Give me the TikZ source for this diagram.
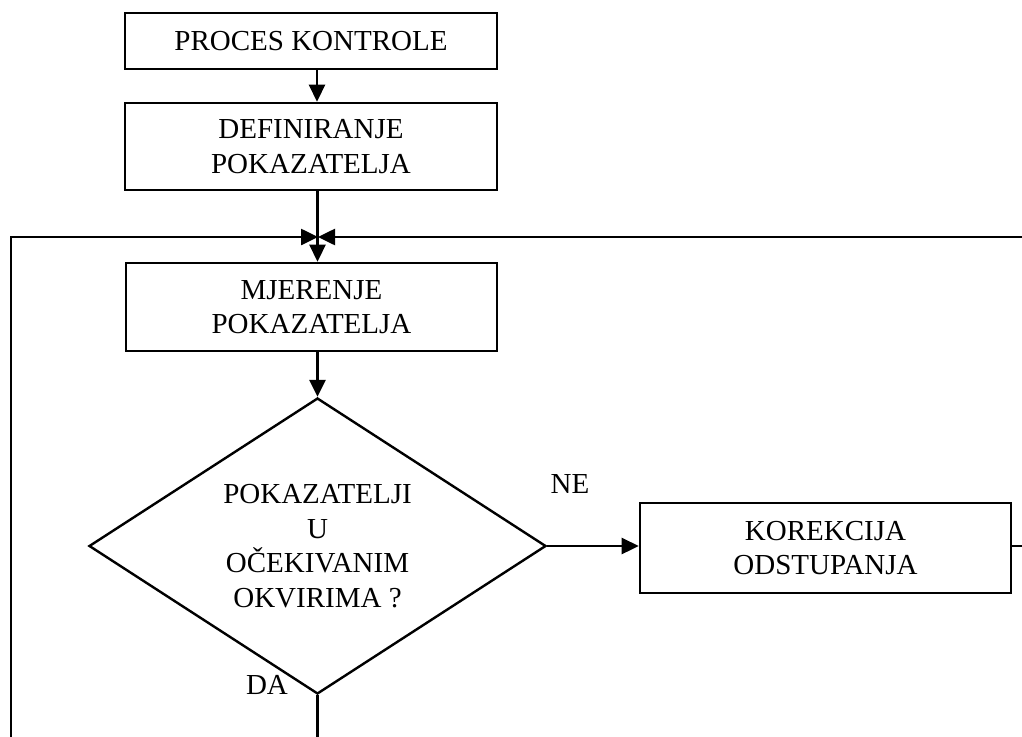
\documentclass[tikz,border=0pt]{standalone}
\usepackage{fontspec}
\setmainfont{Liberation Serif}
\usetikzlibrary{shapes.geometric,arrows.meta}
\begin{document}
\begin{tikzpicture}[x=1pt,y=-1pt,
  every node/.style={font=\fontsize{29}{34.5}\selectfont},
  box/.style={draw,line width=2.6pt,rectangle,align=center,inner sep=0pt},
  line/.style={line width=2.6pt},
  arr/.style={line width=2.6pt,-{Triangle[length=17pt,width=16pt]}},
  lbl/.style={inner sep=0pt}]
\useasboundingbox (0,0) rectangle (1022,736);
\node[box,minimum width=372pt,minimum height=56pt] (b1) at (311,41) {PROCES KONTROLE};
\node[box,minimum width=372pt,minimum height=87pt] (b2) at (311,146.5) {DEFINIRANJE\\POKAZATELJA};
\node[box,minimum width=371pt,minimum height=88pt] (b3) at (311.5,307) {MJERENJE\\POKAZATELJA};
\node[draw,line width=2.4pt,diamond,aspect=1.54,inner sep=0pt,minimum width=457pt,minimum height=296pt,align=center] (dec) at (317.5,546) {POKAZATELJI\\U\\OČEKIVANIM\\OKVIRIMA ?};
\node[box,minimum width=371pt,minimum height=90pt] (kor) at (825.5,548) {KOREKCIJA\\ODSTUPANJA};
\node[lbl] (ne) at (570,484) {NE};
\node[lbl] (da) at (267,685) {DA};
\coordinate (j) at (318,237);
\coordinate (tl) at (11,237);
\coordinate (bl) at (11,737);
\coordinate (tr) at (1023,237);
\coordinate (kr) at (1023,546);
\coordinate (bm) at (317.5,737);
\draw[arr] (b1.south -| 317,0) -- (b2.north -| 317,0);
\draw[arr] (b2.south -| 317.5,0) -- (b3.north -| 317.5,0);
\draw[arr] (b3.south -| dec.north) -- (dec.north);
\draw[arr] (dec.east) -- (kor.west |- dec.east);
\draw[line] (kor.east |- kr) -- (kr);
\draw[line] (dec.south) -- (bm);
\draw[arr] (bl) -- (tl) -- (j);
\draw[arr] (tr) -- (j);
\end{tikzpicture}
\end{document}
